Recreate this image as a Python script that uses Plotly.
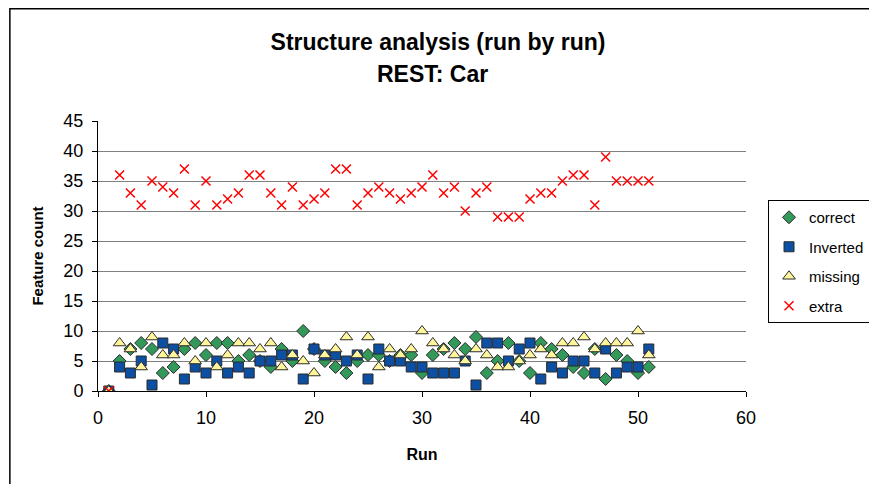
import plotly.graph_objects as go

# run numbers 1..51
runs = list(range(1, 52))

correct = [0, 5, 7, 8, 7, 3, 4, 7, 8, 6, 8, 8, 5, 6, 5, 4, 7, 5, 10, 7,
           5, 4, 3, 5, 6, 6, 5, 6, 6, 3, 6, 7, 8, 7, 9, 3, 5, 8, 5, 3,
           8, 7, 6, 4, 3, 7, 2, 6, 5, 3, 4]
inverted = [0, 4, 3, 5, 1, 8, 7, 2, 4, 3, 5, 3, 4, 3, 5, 5, 6, 6, 2, 7,
            6, 6, 5, 6, 2, 7, 5, 5, 4, 4, 3, 3, 3, 5, 1, 8, 8, 5, 7, 8,
            2, 4, 3, 5, 5, 3, 7, 3, 4, 4, 7]
missing = [0, 8, 7, 4, 9, 6, 6, 8, 5, 8, 4, 6, 8, 8, 7, 8, 4, 6, 5, 3,
           6, 7, 9, 6, 9, 4, 7, 6, 7, 10, 8, 7, 6, 5, 7, 6, 4, 4, 5, 6,
           7, 6, 8, 8, 9, 7, 8, 8, 8, 10, 6]
extra = [0, 36, 33, 31, 35, 34, 33, 37, 31, 35, 31, 32, 33, 36, 36, 33, 31, 34, 31, 32,
         33, 37, 37, 31, 33, 34, 33, 32, 33, 34, 36, 33, 34, 30, 33, 34, 29, 29, 29, 32,
         33, 33, 35, 36, 36, 31, 39, 35, 35, 35, 35]

font = "Liberation Sans, Arial, sans-serif"
edge = dict(color="#2b2b2b", width=1)

fig = go.Figure()
fig.add_trace(go.Scatter(x=runs, y=correct, mode="markers", name="correct", legendgroup="a",
                         marker=dict(symbol="diamond", size=10, color="#33995A", line=edge)))
fig.add_trace(go.Scatter(x=runs, y=inverted, mode="markers", name="Inverted", legendgroup="b",
                         marker=dict(symbol="square", size=10, color="#0D4FA3", line=edge)))
fig.add_trace(go.Scatter(x=runs, y=missing, mode="markers", name="missing", legendgroup="c",
                         marker=dict(symbol="triangle-up", size=11, color="#FFF59A", line=edge)))
fig.add_trace(go.Scatter(x=runs, y=extra, mode="markers", name="extra", legendgroup="d",
                         marker=dict(symbol="x-thin", size=9, color="#FF0000",
                                     line=dict(color="#FF0000", width=1.5))))

# page body has an 8px margin, so the figure is a bit smaller and shifted
fig.update_layout(
    width=869, height=476,
    margin=dict(l=90, r=119, t=113, b=93),
    paper_bgcolor="white", plot_bgcolor="white",
    font=dict(family=font, size=18, color="black"),
    title=dict(text="<b>Structure analysis (run by run)</b>",
               x=0.4948, xref="container", xanchor="center",
               y=0.9286, yref="container", yanchor="middle",
               font=dict(size=23, family=font)),
    legend=dict(x=0.8746, y=0.5966, xref="container", yref="container",
                xanchor="left", yanchor="top",
                bordercolor="black", borderwidth=1, bgcolor="white",
                font=dict(size=15, family=font), itemwidth=30,
                tracegroupgap=7),
    showlegend=True,
)

fig.add_annotation(text="<b>REST: Car</b>", xref="paper", yref="paper",
                   x=0.5167, y=1.174, xanchor="center", yanchor="middle",
                   showarrow=False, font=dict(size=23, family=font))

fig.update_xaxes(range=[0, 60], dtick=10, showgrid=False, zeroline=False,
                 showline=True, linecolor="black", linewidth=1,
                 ticks="outside", ticklen=5, tickcolor="black", ticklabelstandoff=5,
                 title=dict(text="<b>Run</b>", font=dict(size=16), standoff=22))
fig.update_yaxes(range=[0, 45], dtick=5, showgrid=True, gridcolor="#808080", gridwidth=1,
                 zeroline=False, showline=True, linecolor="black", linewidth=1,
                 ticks="outside", ticklen=5, tickcolor="black", ticklabelstandoff=5,
                 title=dict(text="<b>Feature count</b>", font=dict(size=15), standoff=16))

# outer chart frame
fig.add_shape(type="rect", xref="paper", yref="paper",
              x0=-0.136, x1=1.4, y0=-0.5, y1=1.4157,
              line=dict(color="black", width=1.5), fillcolor="rgba(0,0,0,0)",
              layer="below")

fig.write_html("out.html")
